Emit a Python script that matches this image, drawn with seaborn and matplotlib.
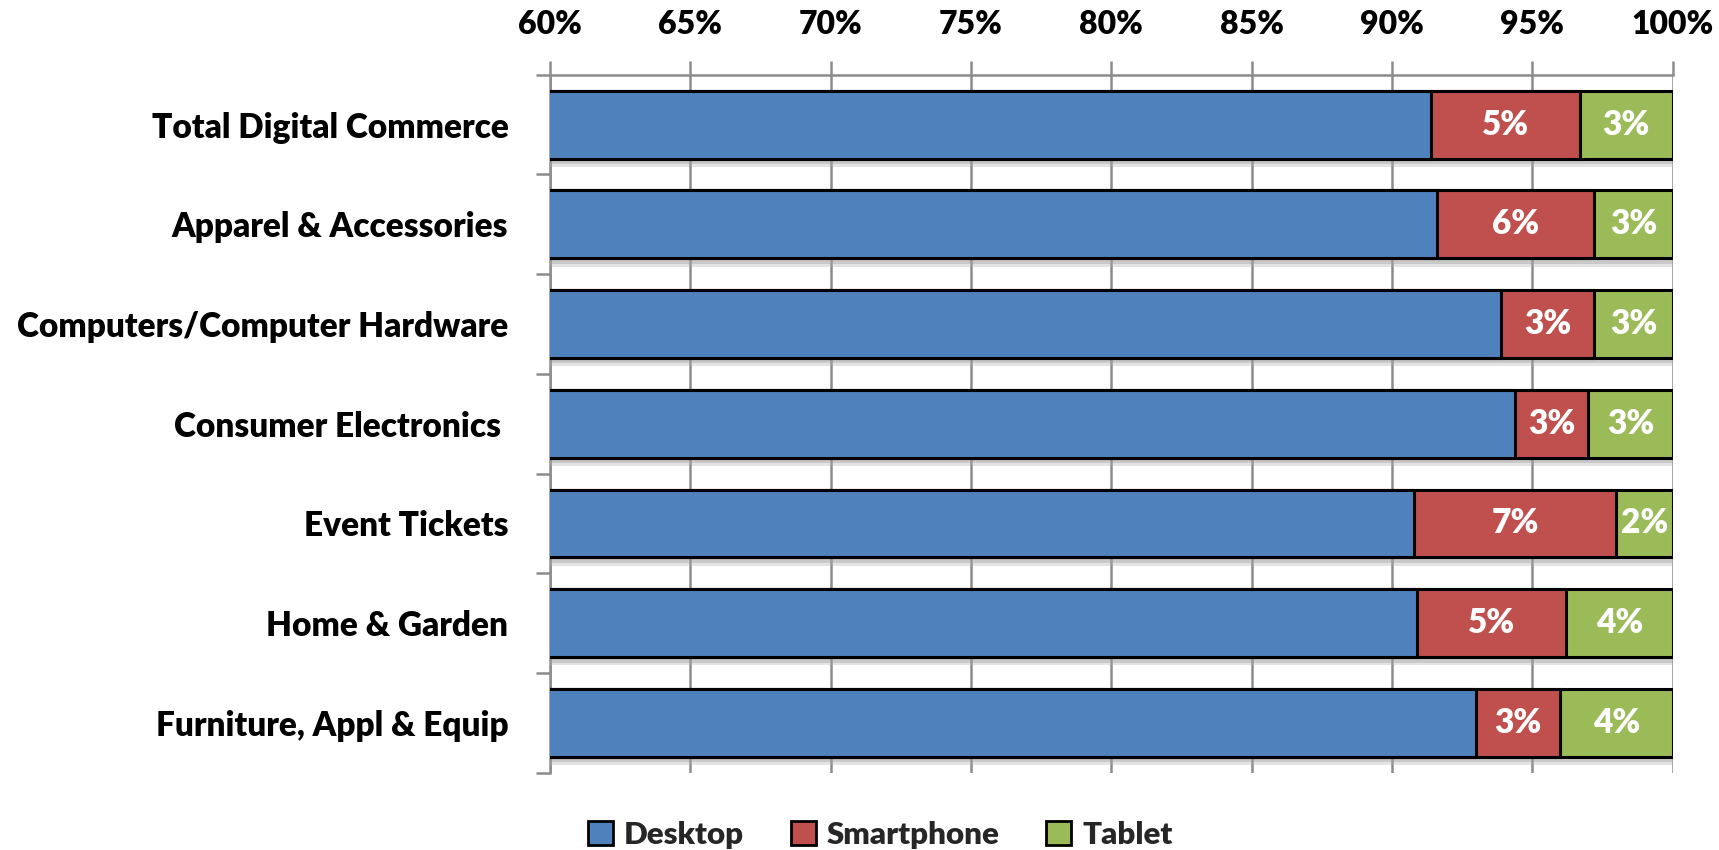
import matplotlib
matplotlib.use("Agg")
import matplotlib.pyplot as plt
import matplotlib.patheffects as pe
from matplotlib.patches import Patch
from matplotlib.ticker import MultipleLocator, FixedLocator, FuncFormatter
import numpy as np
import pandas as pd
import seaborn as sns

# Share of digital commerce spend by device (percent)
categories = [
    "Total Digital Commerce",
    "Apparel & Accessories",
    "Computers/Computer Hardware",
    "Consumer Electronics ",
    "Event Tickets",
    "Home & Garden",
    "Furniture, Appl & Equip",
]
desktop = [91.4, 91.6, 93.9, 94.4, 90.8, 90.9, 93.0]
smartphone = [5.3, 5.6, 3.3, 2.6, 7.2, 5.3, 3.0]
tablet = [3.3, 2.8, 2.8, 3.0, 2.0, 3.8, 4.0]

series_names = ["Desktop", "Smartphone", "Tablet"]
colors = {"Desktop": "#4F81BD", "Smartphone": "#C0504D", "Tablet": "#9BBB59"}

WEIGHT = "heavy"

sns.set_theme(style="white")
plt.rcParams["font.family"] = ["Lato", "DejaVu Sans"]
plt.rcParams["font.weight"] = WEIGHT

df = pd.DataFrame({
    "category": categories,
    "Desktop": desktop,
    "Smartphone": smartphone,
    "Tablet": tablet,
})
df["cum_desktop"] = df["Desktop"]
df["cum_smart"] = df["Desktop"] + df["Smartphone"]
df["cum_tablet"] = df["cum_smart"] + df["Tablet"]

fig = plt.figure(figsize=(17.19, 8.5), dpi=100)
ax = fig.add_axes([0.32, 0.091, 0.653, 0.821])

# Stacked bars drawn as cumulative totals, outermost first
for col, name in [("cum_tablet", "Tablet"), ("cum_smart", "Smartphone"), ("cum_desktop", "Desktop")]:
    sns.barplot(data=df, x=col, y="category", orient="h", color=colors[name],
                saturation=1, width=0.68, edgecolor="black", linewidth=2.2, ax=ax)

n = len(categories)
for k, p in enumerate(ax.patches):
    p.set_zorder(3)
    if k < n:
        # soft drop shadow under the full-length bars
        p.set_path_effects([
            pe.SimplePatchShadow(offset=(4, -6), shadow_rgbFace="#b0b0b0", alpha=0.35),
            pe.SimplePatchShadow(offset=(2, -4), shadow_rgbFace="#9a9a9a", alpha=0.35),
            pe.Normal(),
        ])

# Value labels for smartphone and tablet segments
for i in range(n):
    s_mid = df["cum_desktop"][i] + df["Smartphone"][i] / 2
    t_mid = df["cum_smart"][i] + df["Tablet"][i] / 2
    ax.text(s_mid, i, f"{round(df['Smartphone'][i]):.0f}%", ha="center", va="center",
            color="white", fontsize=24, fontweight=WEIGHT, zorder=5)
    ax.text(t_mid, i, f"{round(df['Tablet'][i]):.0f}%", ha="center", va="center",
            color="white", fontsize=24, fontweight=WEIGHT, zorder=5, clip_on=False)

ax.set_xlim(60, 100)
ax.set_ylim(n - 0.5, -0.5)
ax.xaxis.set_major_locator(MultipleLocator(5))
ax.xaxis.set_major_formatter(FuncFormatter(lambda v, _: f"{v:.0f}%"))
ax.xaxis.tick_top()
ax.xaxis.set_label_position("top")
ax.set_xlabel("")
ax.set_ylabel("")

ax.grid(axis="x", color="#8c8c8c", linewidth=1.8, zorder=0)
ax.set_axisbelow(True)

for side in ["right", "bottom"]:
    ax.spines[side].set_visible(False)
for side in ["top", "left"]:
    ax.spines[side].set_color("#8c8c8c")
    ax.spines[side].set_linewidth(1.8)

ax.tick_params(axis="x", which="major", top=True, bottom=False, length=10, width=1.8,
               color="#8c8c8c", labelsize=23, pad=16)
ax.tick_params(axis="y", which="major", left=False, length=0, labelsize=24, pad=30)
ax.yaxis.set_minor_locator(FixedLocator(np.arange(-0.5, n, 1.0)))
ax.tick_params(axis="y", which="minor", left=True, length=10, width=1.8, color="#8c8c8c")

for lab in ax.get_xticklabels() + ax.get_yticklabels():
    lab.set_fontweight(WEIGHT)
    lab.set_color("black")

handles = [Patch(facecolor=colors[s], edgecolor="black", linewidth=2) for s in series_names]
fig.legend(handles, series_names, loc="lower center", bbox_to_anchor=(0.512, -0.032), ncol=3,
           frameon=False, prop={"size": 22.5, "weight": WEIGHT}, handlelength=0.8,
           handleheight=0.8, handletextpad=0.35, columnspacing=1.5)

fig.savefig("out.png", dpi=100)
